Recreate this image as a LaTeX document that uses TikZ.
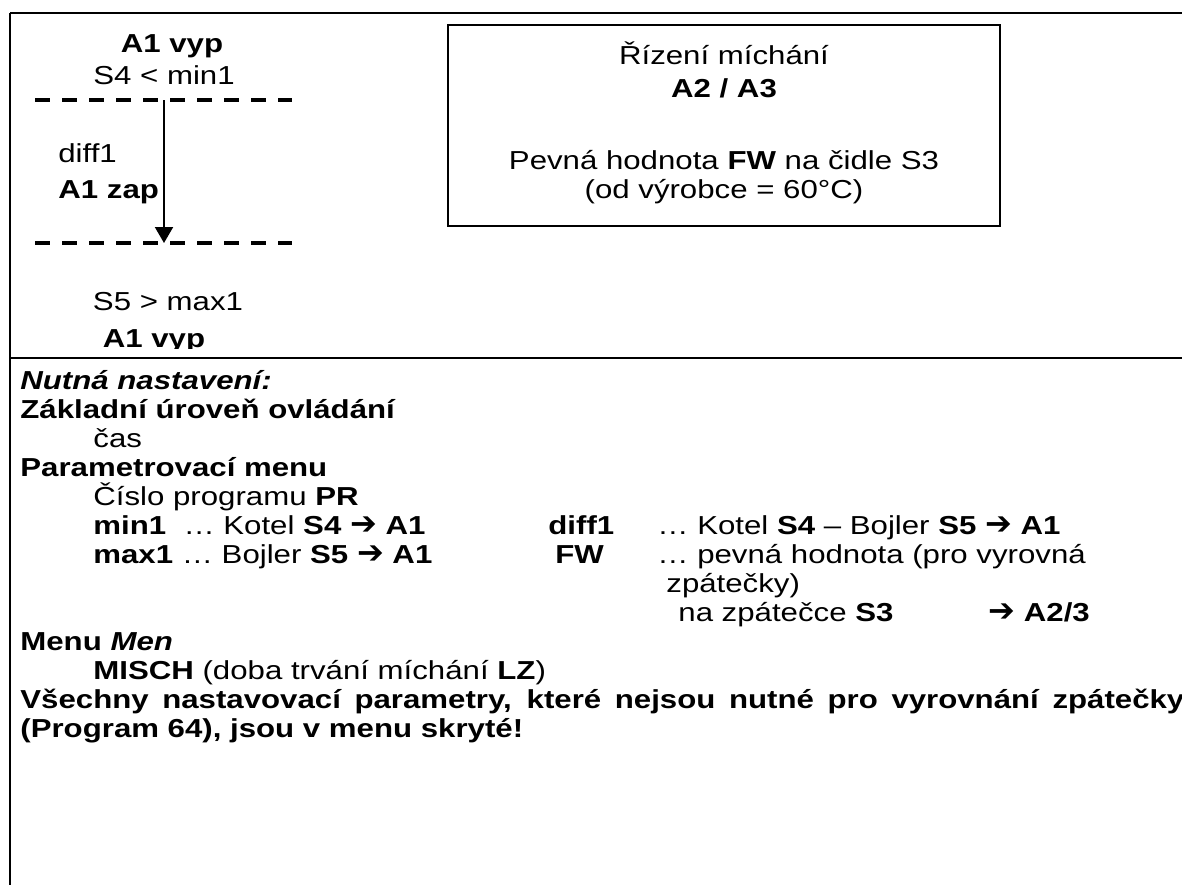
\documentclass[tikz,border=0pt]{standalone}
\usepackage{fontspec}
\setmainfont{Liberation Sans}[FakeStretch=1.2]
\newfontfamily\arrowfont{DejaVu Sans}
\newcommand\arr{{\arrowfont\fontsize{16}{14}\selectfont ➔}}
\usetikzlibrary{arrows.meta}

\begin{document}
\begin{tikzpicture}[x=0.5pt,y=-0.5pt,
  txt/.style={inner sep=0pt,anchor=base west,font=\fontsize{13}{14}\selectfont},
  ctr/.style={txt,anchor=base},
  frame/.style={draw=black,line width=.8pt},
  limit/.style={draw=black,line width=1.8pt,dash pattern=on 7.5pt off 6pt},
  arrow/.style={-{Triangle[length=8pt,width=9pt]},line width=1pt}]
\useasboundingbox (0,0) rectangle (1182,885);
\clip (0,0) rectangle (1182,885);
% frame of the table
\draw[frame,line width=1pt] (10,13) -- (1182,13);
\draw[frame] (10,13) -- (10,885);
\draw[frame] (10,358) -- (1182,358);
% switching band
\draw[limit] (35,100) -- (292,100);
\draw[limit] (35,243) -- (292,243);
\coordinate (upper) at (164,100);
\coordinate (lower) at (164,243);
\draw[arrow] (upper) -- (lower);
\node[ctr] (off1) at (172,52) {\textbf{A1 vyp}};
\node[ctr] (min) at (164,84) {S4 < min1};
\node[txt] (diff) at (58,162) {diff1};
\node[txt] (on) at (58,198) {\textbf{A1 zap}};
\node[ctr] (max) at (168,310) {S5 > max1};
\begin{scope}
\clip (10,0) rectangle (440,348);
\node[ctr] (off2) at (154,347) {\textbf{A1 vyp}};
\end{scope}
% mixing box
\node[frame,draw,minimum width=276pt,minimum height=100.5pt,inner sep=0pt]
  (mix) at (724,125.5) {};
\node[ctr] (mixa) at (724,64) {Řízení míchání};
\node[ctr] (mixb) at (724,97) {\textbf{A2 / A3}};
\node[ctr] (mixc) at (724,169) {Pevná hodnota \textbf{FW} na čidle S3};
\node[ctr] (mixd) at (724,198) {(od výrobce = 60°C)};
% settings
\node[txt] (head) at (20,389) {\textbf{\itshape Nutná nastavení:}};
\node[txt] (basic) at (20,418) {\textbf{Základní úroveň ovládání}};
\node[txt] (time) at (93,447) {čas};
\node[txt] (param) at (20,476) {\textbf{Parametrovací menu}};
\node[txt] (prog) at (93,505) {Číslo programu \textbf{PR}};
\node[txt] (pmin) at (93,534) {\textbf{min1}\ \ … Kotel \textbf{S4 \arr\ A1}};
\node[txt] (pmax) at (93,563) {\textbf{max1}\ … Bojler \textbf{S5 \arr\ A1}};
\node[txt] (pdiff) at (548,534) {\textbf{diff1}};
\node[txt] (pdiffx) at (657,534) {… Kotel \textbf{S4} – Bojler \textbf{S5 \arr\ A1}};
\node[txt] (pfw) at (555,563) {\textbf{FW}};
\node[txt] (pfwx) at (657,563) {… pevná hodnota (pro vyrovná};
\node[txt] (pfwy) at (666,592) {zpátečky)};
\node[txt] (pfwz) at (678,621) {na zpátečce \textbf{S3}};
\node[txt] (pfwa) at (988,621) {\textbf{\arr\ A2/3}};
\node[txt] (menu) at (20,650) {\textbf{Menu \itshape Men}};
\node[txt] (misch) at (93,679) {\textbf{MISCH} (doba trvání míchání \textbf{LZ})};
\node[txt] (note1) at (20,708) {\makebox[582pt][s]{\textbf{Všechny nastavovací parametry, které nejsou nutné pro vyrovnání zpátečky}}};
\node[txt] (note2) at (20,737) {\textbf{(Program 64), jsou v menu skryté!}};
\end{tikzpicture}
\end{document}
